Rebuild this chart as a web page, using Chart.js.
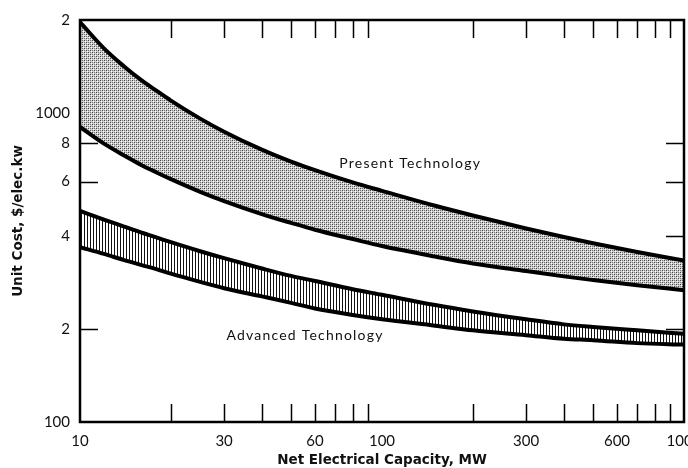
<!DOCTYPE html>
<html><head><meta charset="utf-8">
<script src="https://cdn.jsdelivr.net/npm/chart.js@4.4.0/dist/chart.umd.min.js"></script>
<style>html,body{margin:0;padding:0;background:#fff}#wrap{width:688px;height:468px;position:relative}</style>
</head><body><div id="wrap"><canvas id="c"></canvas></div>
<script>
const capacityMW    = [10, 12, 14, 16, 18, 20, 25, 30, 40, 50, 60, 80, 100, 150, 200, 300, 400, 500, 700, 1000];
const presentUpper  = [1970, 1619, 1415, 1275, 1177, 1097, 959, 870, 761, 696, 653, 596, 560, 501, 466, 423, 397, 379, 355, 333];
const presentLower  = [901, 796, 729, 678, 641, 611, 556, 519, 471, 441, 419, 391, 371, 343, 326, 308, 296, 288, 277, 267];
const advancedUpper = [482, 452, 429, 410, 395, 382, 357, 339, 314, 297, 286, 269, 258, 239, 228, 215, 207, 203, 198, 193];
const advancedLower = [368, 350, 334, 322, 312, 302, 284, 271, 255, 243, 233, 222, 215, 205, 198, 191, 186, 184, 180, 178];
const yTickValues = [100, 200, 400, 600, 800, 1000, 2000];
const yTickLabels = ['100', '2', '4', '6', '8', '1000', '2'];
const xTickValues = [10, 30, 60, 100, 300, 600, 1000];
const xTickLabels = ['10', '30', '60', '100', '300', '600', '1000'];
const xMinorTicks = [20, 30, 40, 50, 60, 70, 80, 90, 200, 300, 400, 500, 600, 700, 800, 900];
const yMinorTicks = [200, 400, 600, 800];
const bandLabels = [
  {text: 'Present Technology', x: 124, y: 689},
  {text: 'Advanced Technology', x: 55.6, y: 190}
];

function pts(ys){ return capacityMW.map((x,i)=>({x:x, y:ys[i]})); }

function stipple(){
  const c=document.createElement('canvas'); c.width=4; c.height=4;
  const g=c.getContext('2d');
  g.fillStyle='#cfcfcf'; g.fillRect(0,0,4,4);
  g.fillStyle='#444'; g.fillRect(0,0,1,1); g.fillRect(2,2,1,1);
  g.fillStyle='#777'; g.fillRect(2,0,1,1); g.fillRect(0,2,1,1);
  g.fillStyle='#fff'; g.fillRect(1,1,1,1); g.fillRect(3,3,1,1);
  return g.createPattern(c,'repeat');
}
function hatch(){
  const c=document.createElement('canvas'); c.width=3; c.height=3;
  const g=c.getContext('2d');
  g.fillStyle='#fff'; g.fillRect(0,0,3,3);
  g.fillStyle='#111'; g.fillRect(0,0,1,3);
  return g.createPattern(c,'repeat');
}

const FONT='Lato, "DejaVu Sans", sans-serif';
const TITLE_FONT='"DejaVu Sans", sans-serif';

const frame = {
  id:'frame',
  beforeDraw(chart){
    const {ctx, chartArea:a, scales:{x, y}} = chart;
    ctx.save(); ctx.strokeStyle='#000'; ctx.lineWidth=1.5; const L=18;
    xMinorTicks.forEach(v=>{
      const px=Math.round(x.getPixelForValue(v))+0.5;
      ctx.beginPath(); ctx.moveTo(px,a.bottom); ctx.lineTo(px,a.bottom-L);
      ctx.moveTo(px,a.top); ctx.lineTo(px,a.top+L); ctx.stroke();
    });
    yMinorTicks.forEach(v=>{
      const py=Math.round(y.getPixelForValue(v))+0.5;
      ctx.beginPath(); ctx.moveTo(a.left,py); ctx.lineTo(a.left+L,py);
      ctx.moveTo(a.right,py); ctx.lineTo(a.right-L,py); ctx.stroke();
    });
    ctx.restore();
  },
  afterDatasetsDraw(chart){
    const {ctx, chartArea:a, scales:{x, y}} = chart;
    ctx.save();
    ctx.strokeStyle='#000'; ctx.lineWidth=2.5;
    ctx.strokeRect(a.left, a.top, a.right-a.left, a.bottom-a.top);
    ctx.fillStyle='#111'; ctx.font='14px '+FONT; ctx.textAlign='center'; ctx.textBaseline='middle';
    try{ ctx.letterSpacing='1.2px'; }catch(e){}
    bandLabels.forEach(l=>{ ctx.fillText(l.text, x.getPixelForValue(l.x), y.getPixelForValue(l.y)); });
    ctx.restore();
  }
};

const lineDs = (data, fill, bg) => ({
  data: pts(data), borderColor:'#000', borderWidth:4, pointRadius:0,
  cubicInterpolationMode:'monotone', fill: fill, backgroundColor: bg
});

new Chart(document.getElementById('c'), {
  type:'line',
  data:{ datasets:[
    lineDs(presentUpper, '+1', stipple()),
    lineDs(presentLower, false, 'transparent'),
    lineDs(advancedUpper, '+1', hatch()),
    lineDs(advancedLower, false, 'transparent')
  ]},
  options:{
    responsive:true, maintainAspectRatio:false, animation:false,
    layout:{padding:{left:0, right:4, top:20, bottom:0}},
    plugins:{legend:{display:false}, tooltip:{enabled:false}, filler:{drawTime:'beforeDatasetsDraw'}},
    scales:{
      x:{
        type:'logarithmic', min:10, max:1000, position:'bottom',
        afterBuildTicks(s){ s.ticks = xTickValues.map(v=>({value:v})); },
        afterFit(s){ s.height=46; s.paddingRight=0; s.paddingLeft=0; },
        ticks:{ autoSkip:false, maxRotation:0, padding:10, color:'#111', font:{family:FONT, size:15},
          callback(v,i){ return xTickLabels[i]; } },
        grid:{display:false, drawTicks:false},
        border:{display:false},
        title:{display:true, text:'Net Electrical Capacity, MW', color:'#111',
          font:{family:TITLE_FONT, size:13.5, weight:'bold'}, padding:{top:0,bottom:-1}}
      },
      y:{
        type:'logarithmic', min:100, max:2000,
        afterBuildTicks(s){ s.ticks = yTickValues.map(v=>({value:v})); },
        afterFit(s){ s.width=80; },
        ticks:{ autoSkip:false, padding:10, color:'#111', font:{family:FONT, size:15},
          callback(v,i){ return yTickLabels[i]; } },
        grid:{display:false, drawTicks:false},
        border:{display:false},
        title:{display:true, text:'Unit Cost, $/elec.kw', color:'#111',
          font:{family:TITLE_FONT, size:13.5, weight:'bold'}, padding:{top:10,bottom:0}}
      }
    }
  },
  plugins:[frame]
});
</script>
</body></html>
